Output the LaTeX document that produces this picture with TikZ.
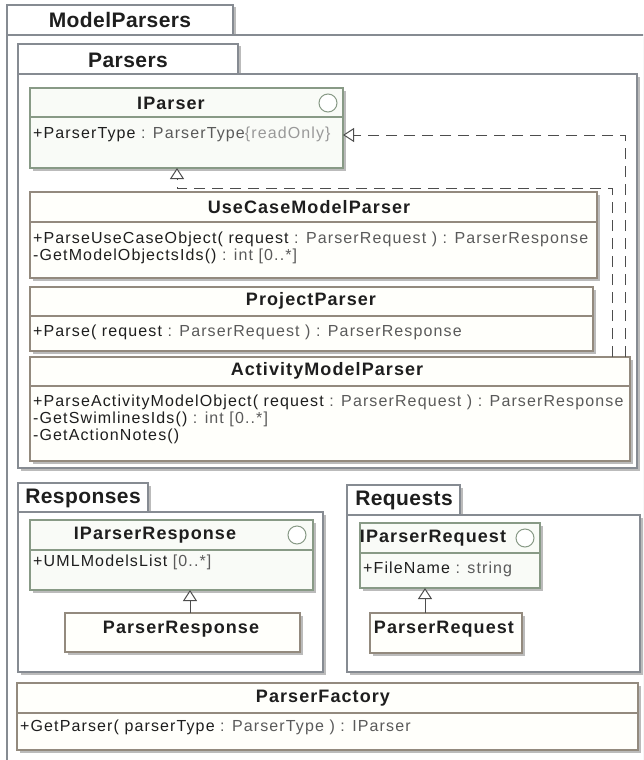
\documentclass[tikz,border=0pt]{standalone}
\usepackage{fontspec}
\setmainfont{Liberation Sans}
\newfontfamily\membfont{Liberation Sans}[LetterSpace=7]
\newfontfamily\namefont{Liberation Sans}[LetterSpace=6]
\newfontfamily\pkgfont{Liberation Sans}[LetterSpace=2]
\usetikzlibrary{arrows.meta,shadows}

\definecolor{pkgborder}{HTML}{868B92}
\definecolor{shadowgray}{HTML}{BBBBBB}
\definecolor{classborder}{HTML}{938A7E}
\definecolor{classfill}{HTML}{FFFFFB}
\definecolor{ifaceborder}{HTML}{889A86}
\definecolor{ifacefill}{HTML}{F9FBF7}
\definecolor{textdark}{HTML}{1E1E1E}
\definecolor{typegray}{HTML}{5A5A5A}
\definecolor{rogray}{HTML}{999999}
\definecolor{linkgray}{HTML}{4D4D4D}

% type part of a member, and property strings (\color swallows a leading space,
% so the space goes in front of the macro)
\newcommand\tyof[1]{\textcolor{typegray}{#1}}
\newcommand\roof[1]{\textcolor{rogray}{#1}}

\begin{document}
\begin{tikzpicture}[x=1pt,y=-1pt,
  umlshadow/.style={general shadow={fill=shadowgray, shadow xshift=2.5pt, shadow yshift=-2.5pt}},
  umlbox/.style={inner sep=0pt, outer sep=0pt, anchor=north west, line width=1.1pt, umlshadow},
  pkgbox/.style={umlbox, draw=pkgborder, fill=white},
  classbox/.style={umlbox, draw=classborder, fill=classfill},
  ifacebox/.style={umlbox, draw=ifaceborder, fill=ifacefill},
  classrule/.style={draw=classborder, line width=1.1pt},
  ifacerule/.style={draw=ifaceborder, line width=1.1pt},
  ifaceicon/.style={circle, draw=ifaceborder, fill=white, line width=1pt, minimum size=18pt, inner sep=0pt},
  pkglabel/.style={font=\pkgfont\bfseries\fontsize{21}{24}\selectfont, text=textdark, inner sep=0pt},
  clsname/.style={font=\namefont\bfseries\fontsize{18}{21}\selectfont, text=textdark, inner sep=0pt},
  member/.style={font=\membfont\fontsize{16}{18}\selectfont, text=textdark, anchor=base west, inner sep=0pt},
  hollowtip/.tip={Triangle[open, length=11pt, width=14pt, fill=white, line width=1pt]},
  realize/.style={draw=linkgray, line width=1pt, dash pattern=on 11pt off 7pt, -hollowtip},
  generalize/.style={draw=linkgray, line width=1pt, -hollowtip}
]
\useasboundingbox (0,0) rectangle (643,760);
\clip (0,0) rectangle (643,760);
\fill[white] (0,0) rectangle (643,760);

% ---------- package ModelParsers ----------
\node[pkgbox, minimum width=226pt, minimum height=30pt] (mptab) at (7,5) {};
\node[pkgbox, minimum width=700pt, minimum height=800pt] (mpbody) at (7,35) {};
\node[pkglabel] (mplabel) at (120,20) {ModelParsers};

% ---------- package Parsers ----------
\node[pkgbox, minimum width=220pt, minimum height=30pt] (pstab) at (18,44) {};
\node[pkgbox, minimum width=619pt, minimum height=394pt] (psbody) at (18,74) {};
\node[pkglabel] (pslabel) at (128,60) {Parsers};

% IParser
\node[ifacebox, minimum width=313pt, minimum height=80pt] (iparser) at (30,88) {};
\draw[ifacerule] ([yshift=-29pt]iparser.north west) -- ([yshift=-29pt]iparser.north east);
\node[clsname] (iparsername) at (171,103) {IParser};
\node[ifaceicon] (iparsericon) at (328,103) {};
\node[member] (iparserattr) at (33,138) {+ParserType \tyof{: ParserType}\roof{\{readOnly\}}};

% UseCaseModelParser
\node[classbox, minimum width=567pt, minimum height=86pt] (usecase) at (30,192) {};
\draw[classrule] ([yshift=-30pt]usecase.north west) -- ([yshift=-30pt]usecase.north east);
\node[clsname] (usecasename) at (309,207) {UseCaseModelParser};
\node[member] (usecaseop1) at (33,243) {+ParseUseCaseObject( request \tyof{: ParserRequest ) : ParserResponse}};
\node[member] (usecaseop2) at (33,260) {-GetModelObjectsIds() \tyof{: int [0..*]}};

% ProjectParser
\node[classbox, minimum width=563pt, minimum height=64pt] (project) at (30,287) {};
\draw[classrule] ([yshift=-29pt]project.north west) -- ([yshift=-29pt]project.north east);
\node[clsname] (projectname) at (311,301) {ProjectParser};
\node[member] (projectop1) at (33,336) {+Parse( request \tyof{: ParserRequest ) : ParserResponse}};

% ActivityModelParser
\node[classbox, minimum width=600pt, minimum height=104pt] (amp) at (30,357) {};
\draw[classrule] ([yshift=-29pt]amp.north west) -- ([yshift=-29pt]amp.north east);
\node[clsname] (ampname) at (327,371) {ActivityModelParser};
\node[member] (ampop1) at (33,406) {+ParseActivityModelObject( request \tyof{: ParserRequest ) : ParserResponse}};
\node[member] (ampop2) at (33,423) {-GetSwimlinesIds() \tyof{: int [0..*]}};
\node[member] (ampop3) at (33,440) {-GetActionNotes()};

% realizations towards IParser
\coordinate (bendA) at (612,188);
\coordinate (footA) at (177,188);
\draw[realize] (bendA |- amp.north) -- (bendA) -- (footA) -- (footA |- iparser.south);
\coordinate (bendB) at (625,135);
\draw[realize] (bendB |- amp.north) -- (bendB) -- (bendB -| iparser.east);

% ---------- package Responses ----------
\node[pkgbox, minimum width=130pt, minimum height=29pt] (rstab) at (18,483) {};
\node[pkgbox, minimum width=305pt, minimum height=160pt] (rsbody) at (18,512) {};
\node[pkglabel] (rslabel) at (83,498) {Responses};

\node[ifacebox, minimum width=283pt, minimum height=70pt] (iresp) at (30,520) {};
\draw[ifacerule] ([yshift=-30pt]iresp.north west) -- ([yshift=-30pt]iresp.north east);
\node[clsname] (irespname) at (155,535) {IParserResponse};
\node[ifaceicon] (irespicon) at (297,535) {};
\node[member] (irespattr) at (33,566) {+UMLModelsList \tyof{[0..*]}};

\node[classbox, minimum width=235pt, minimum height=39pt] (presp) at (65,613) {};
\node[clsname] (prespname) at (181,629) {ParserResponse};

\coordinate (genR) at (190,600);
\draw[generalize] (genR |- presp.north) -- (genR |- iresp.south);

% ---------- package Requests ----------
\node[pkgbox, minimum width=113pt, minimum height=30pt] (rqtab) at (347,485) {};
\node[pkgbox, minimum width=293pt, minimum height=157pt] (rqbody) at (347,515) {};
\node[pkglabel] (rqlabel) at (404,500) {Requests};

\node[ifacebox, minimum width=180pt, minimum height=65pt] (ireq) at (360,523) {};
\draw[ifacerule] ([yshift=-30pt]ireq.north west) -- ([yshift=-30pt]ireq.north east);
\node[clsname] (ireqname) at (433,538) {IParserRequest};
\node[ifaceicon] (ireqicon) at (525,538) {};
\node[member] (ireqattr) at (363,573) {+FileName \tyof{: string}};

\node[classbox, minimum width=152pt, minimum height=40pt] (preq) at (370,613) {};
\node[clsname] (preqname) at (444,629) {ParserRequest};

\coordinate (genQ) at (425,600);
\draw[generalize] (genQ |- preq.north) -- (genQ |- ireq.south);

% ---------- ParserFactory ----------
\node[classbox, minimum width=621pt, minimum height=67pt] (factory) at (17,683) {};
\draw[classrule] ([yshift=-30pt]factory.north west) -- ([yshift=-30pt]factory.north east);
\node[clsname] (factoryname) at (323,698) {ParserFactory};
\node[member] (factoryop1) at (20,731) {+GetParser( parserType \tyof{: ParserType ) : IParser}};
\end{tikzpicture}
\end{document}
